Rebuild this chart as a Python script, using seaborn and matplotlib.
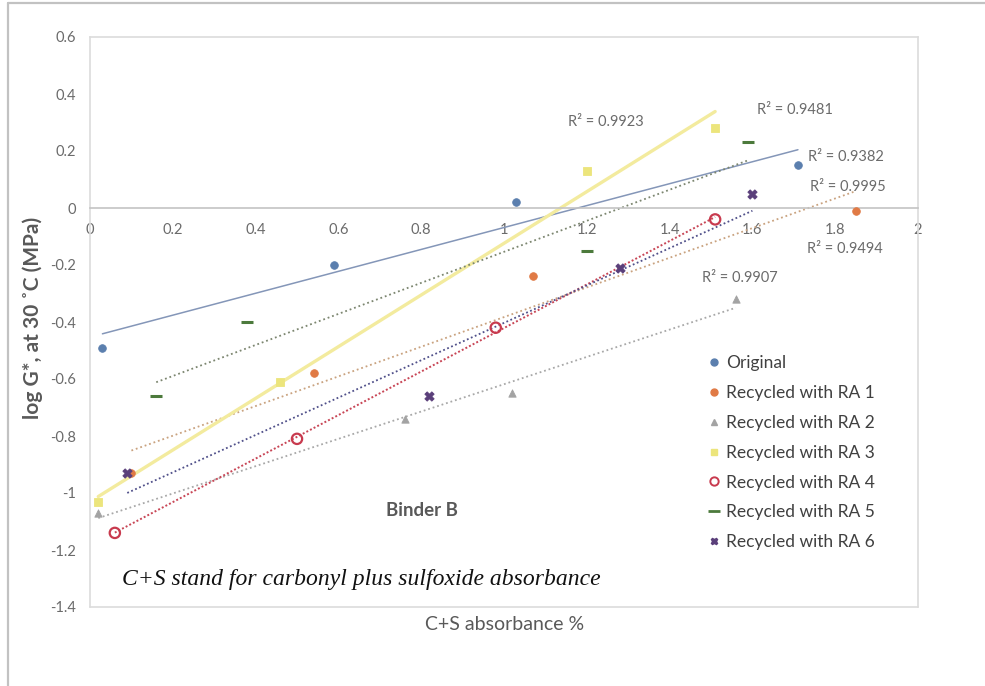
import matplotlib
matplotlib.use("Agg")
import matplotlib.pyplot as plt
from matplotlib.lines import Line2D
import seaborn as sns
import pandas as pd

# ---------------- data ----------------
series_names = ["Original", "Recycled with RA 1", "Recycled with RA 2", "Recycled with RA 3",
                "Recycled with RA 4", "Recycled with RA 5", "Recycled with RA 6"]
x_original = [0.03, 0.59, 1.03, 1.71]
y_original = [-0.49, -0.20, 0.02, 0.15]
x_ra1 = [0.10, 0.54, 1.07, 1.85]
y_ra1 = [-0.93, -0.58, -0.24, -0.01]
x_ra2 = [0.02, 0.76, 1.02, 1.56]
y_ra2 = [-1.07, -0.74, -0.65, -0.32]
x_ra3 = [0.02, 0.46, 1.20, 1.51]
y_ra3 = [-1.03, -0.61, 0.13, 0.28]
x_ra4 = [0.06, 0.50, 0.98, 1.51]
y_ra4 = [-1.14, -0.81, -0.42, -0.04]
x_ra5 = [0.16, 0.38, 1.20, 1.59]
y_ra5 = [-0.66, -0.40, -0.15, 0.23]
x_ra6 = [0.09, 0.82, 1.28, 1.60]
y_ra6 = [-0.93, -0.66, -0.21, 0.05]
r2_labels = ["R² = 0.9923", "R² = 0.9481", "R² = 0.9382", "R² = 0.9995", "R² = 0.9494", "R² = 0.9907"]
x_ticks = [0, 0.2, 0.4, 0.6, 0.8, 1, 1.2, 1.4, 1.6, 1.8, 2]
y_ticks = [0.6, 0.4, 0.2, 0, -0.2, -0.4, -0.6, -0.8, -1, -1.2, -1.4]

xs = [x_original, x_ra1, x_ra2, x_ra3, x_ra4, x_ra5, x_ra6]
ys = [y_original, y_ra1, y_ra2, y_ra3, y_ra4, y_ra5, y_ra6]

# ---------------- styles ----------------
sns.set_theme(style="white")
plt.rcParams["font.family"] = ["Lato", "DejaVu Sans"]

marker_styles = [
    dict(marker="o", color="#5b7fae", s=30, fill=True),
    dict(marker="o", color="#e07a45", s=30, fill=True),
    dict(marker="^", color="#a3a3a3", s=28, fill=True),
    dict(marker="s", color="#ece57c", s=30, fill=True),
    dict(marker="o", color="#c83a4e", s=55, fill=False),
    dict(marker="_", color="#4c7a3c", s=80, fill=True),
    dict(marker="X", color="#5a3f7a", s=45, fill=True),
]
trend_styles = [
    dict(color="#8496b8", lw=1.1, ls="-"),
    dict(color="#c9a27f", lw=1.3, ls=(0, (1, 1.6))),
    dict(color="#a8a8a8", lw=1.3, ls=(0, (1, 1.6))),
    dict(color="#f3eb9e", lw=2.4, ls="-"),
    dict(color="#c84656", lw=1.4, ls=(0, (1, 1.1))),
    dict(color="#7c8670", lw=1.3, ls=(0, (1, 1.6))),
    dict(color="#50508a", lw=1.3, ls=(0, (1, 1.4))),
]

fig = plt.figure(figsize=(9.85, 6.86), dpi=100)
ax = fig.add_axes([90 / 985, 1 - 607 / 686, 828 / 985, 570 / 686])

# trendlines
for x, y, ts in zip(xs, ys, trend_styles):
    df = pd.DataFrame({"x": x, "y": y})
    sns.regplot(data=df, x="x", y="y", ax=ax, scatter=False, ci=None, truncate=True,
                line_kws=dict(color=ts["color"], lw=ts["lw"], ls=ts["ls"], zorder=2))

# points
for x, y, ms in zip(xs, ys, marker_styles):
    df = pd.DataFrame({"x": x, "y": y})
    if ms["marker"] == "_":
        sns.scatterplot(data=df, x="x", y="y", ax=ax, marker="_", s=ms["s"],
                        color=ms["color"], linewidth=2.2, zorder=4)
    elif ms["fill"]:
        sns.scatterplot(data=df, x="x", y="y", ax=ax, marker=ms["marker"], s=ms["s"],
                        color=ms["color"], edgecolor=ms["color"], linewidth=0.6, zorder=4)
    else:
        sns.scatterplot(data=df, x="x", y="y", ax=ax, marker=ms["marker"], s=ms["s"],
                        facecolor="none", edgecolor=ms["color"], linewidth=1.6, zorder=4)

# axes
ax.set_xlim(0, 2)
ax.set_ylim(-1.4, 0.6)
ax.set_xticks(x_ticks)
ax.set_xticklabels([f"{v:g}" for v in x_ticks])
ax.set_yticks(y_ticks)
ax.set_yticklabels([f"{v:g}" for v in y_ticks])
ax.tick_params(axis="both", length=0, labelsize=10.5, labelcolor="#6b6b6b")
ax.tick_params(axis="y", pad=10)
ax.tick_params(axis="x", pad=11)
ax.spines["bottom"].set_position(("data", 0))
ax.spines["bottom"].set_color("#c4c4c4")
ax.spines["bottom"].set_linewidth(1.2)
for side in ["left", "top", "right"]:
    ax.spines[side].set_color("#dcdcdc")
    ax.spines[side].set_linewidth(1.2)
ax.plot([0, 1], [0, 0], transform=ax.transAxes, color="#dcdcdc", lw=1.2, clip_on=False)

ax.set_xlabel("C+S absorbance %", fontsize=14, color="#595959")
ax.xaxis.set_label_coords((505 - 90) / 828, (607 - 624) / 570)
ax.xaxis.label.set_verticalalignment("center")
ax.set_ylabel("log G*, at 30 ˚C (MPa)", fontsize=15, color="#595959", fontweight="bold")
ax.yaxis.set_label_coords((33 - 90) / 828, (607 - 318) / 570)
ax.yaxis.label.set_verticalalignment("center")

# R² annotations
r2_pos = [(1.155, 0.302), (1.611, 0.344), (1.734, 0.179), (1.739, 0.074), (1.732, -0.144), (1.478, -0.246)]
for lab, (px, py) in zip(r2_labels, r2_pos):
    ax.text(px, py, lab, fontsize=10.5, color="#6b6b6b", ha="left", va="center")

ax.text((422 - 90) / 828, (607 - 511) / 570, "Binder B", transform=ax.transAxes,
        fontsize=13.5, fontweight="bold", color="#595959", ha="center", va="center")
ax.text((122 - 90) / 828, (607 - 580) / 570, "C+S stand for carbonyl plus sulfoxide absorbance",
        transform=ax.transAxes, fontsize=17, style="italic", family="Liberation Serif",
        color="#111111", ha="left", va="center")

# legend
handles = []
for name, ms in zip(series_names, marker_styles):
    if ms["marker"] == "_":
        h = Line2D([], [], ls="none", marker="_", markersize=8, markeredgewidth=2,
                   color=ms["color"], label=name)
    elif ms["fill"]:
        h = Line2D([], [], ls="none", marker=ms["marker"], markersize=5,
                   color=ms["color"], label=name)
    else:
        h = Line2D([], [], ls="none", marker="o", markersize=6, markerfacecolor="none",
                   markeredgewidth=1.4, markeredgecolor=ms["color"], label=name)
    handles.append(h)
leg = ax.legend(handles=handles, loc="upper left", bbox_to_anchor=(710 / 985, 1 - 355 / 686),
                bbox_transform=fig.transFigure, frameon=False, fontsize=12.5,
                handlelength=0.5, handletextpad=0.45, labelspacing=0.8, borderpad=0,
                borderaxespad=0)
for t in leg.get_texts():
    t.set_color("#404040")

# chart outer frame (top and left edges)
fig.add_artist(Line2D([8 / 985, 1], [1 - 3 / 686, 1 - 3 / 686], transform=fig.transFigure,
                      color="#c2c2c2", lw=1.6))
fig.add_artist(Line2D([8 / 985, 8 / 985], [0, 1 - 3 / 686], transform=fig.transFigure,
                      color="#c2c2c2", lw=1.6))

fig.savefig("out.png", dpi=100, facecolor="white")
